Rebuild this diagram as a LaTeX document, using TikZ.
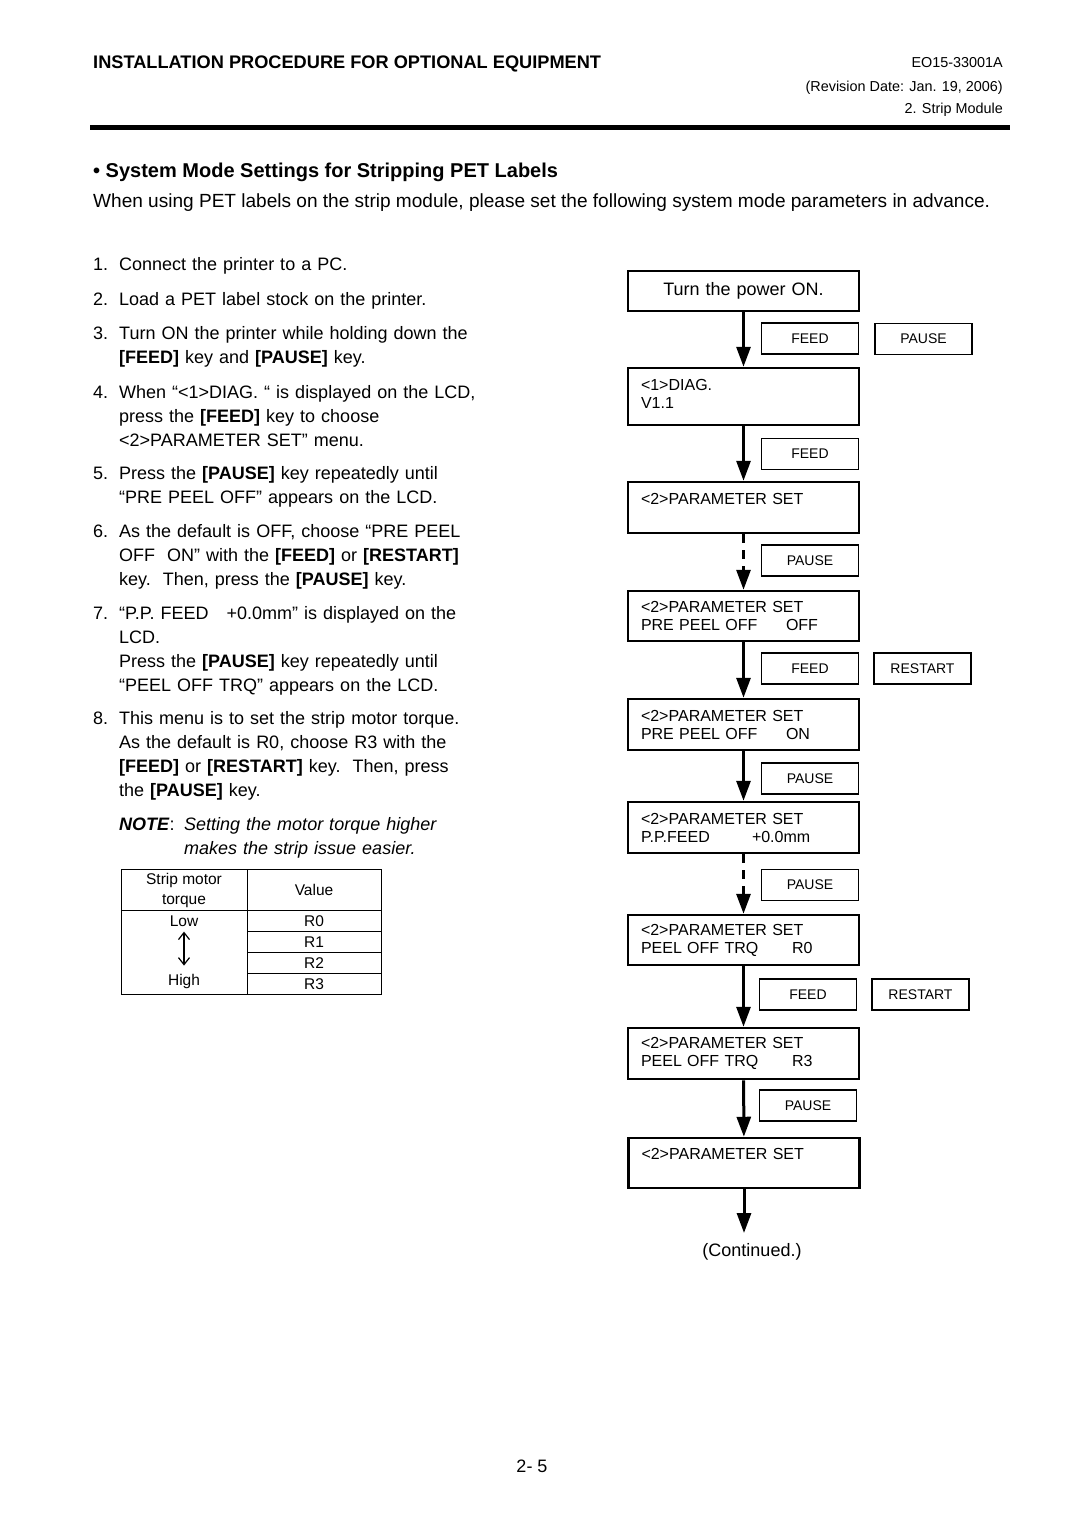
\documentclass[tikz,border=0pt]{standalone}
\usepackage{fontspec}
\setmainfont{Liberation Sans}
\usetikzlibrary{arrows.meta,
                positioning}
\newcommand\lcdrow[3]{\makebox[#1][l]{#2}#3}

\begin{document}
\begin{tikzpicture}[x=1pt, y=-1pt,
every node/.style = {inner sep=0pt},
every edge/.style = {draw, -{Triangle[length=20pt,width=14pt]}, line width=3pt, black},
       txt/.style = {anchor=base west, align=left, text width=420pt,
                     font=\fontsize{18}{24}\selectfont},
       lcd/.style = {draw, line width=2.5pt, text width=205pt, inner xsep=13pt,
                     align=left, font=\fontsize{16}{18}\selectfont},
       key/.style = {draw, line width=1.8pt, minimum width=97pt, minimum height=31pt,
                     font=\fontsize{14}{16}\selectfont},
       tab/.style = {align=center, font=\fontsize{15.5}{20}\selectfont}
                    ]
\useasboundingbox (0,0) rectangle (1080,1528);

\node[anchor=base west, font=\fontsize{18.2}{20}\selectfont\bfseries] (head) at (93,68.5)
    {INSTALLATION PROCEDURE FOR OPTIONAL EQUIPMENT};
\node[anchor=base east, font=\fontsize{14.4}{16}\selectfont] (docno) at (1003,67) {EO15-33001A};
\node[anchor=base east, font=\fontsize{14.4}{16}\selectfont] (rev) at (1003,91) {(Revision Date: Jan. 19, 2006)};
\node[anchor=base east, font=\fontsize{14.4}{16}\selectfont] (chap) at (1003,113) {2. Strip Module};
\draw[line width=5pt] (90,127) -- (1010,127);

\node[anchor=base west, font=\fontsize{20}{24}\selectfont\bfseries] (title) at (93,177)
    {• System Mode Settings for Stripping PET Labels};
\node[anchor=base west, font=\fontsize{19.05}{24}\selectfont] (intro) at (93,207)
    {When using PET labels on the strip module, please set the following system mode parameters in advance.};

\foreach \i/\y in {1/270.5, 2/305.5, 3/339.5, 4/398.5, 5/479.5, 6/537.5, 7/619.5, 8/724.5}
    \node[txt, text width=20pt] (n\i) at (93,\y) {\i.};
\node[txt] (s1) at (119,270.5) {Connect the printer to a PC.};
\node[txt] (s2) at (119,305.5) {Load a PET label stock on the printer.};
\node[txt] (s3) at (119,339.5) {Turn ON the printer while holding down the\\
    \textbf{[FEED]} key and \textbf{[PAUSE]} key.};
\node[txt] (s4) at (119,398.5) {When “<1>DIAG. “ is displayed on the LCD,\\
    press the \textbf{[FEED]} key to choose\\ <2>PARAMETER SET” menu.};
\node[txt] (s5) at (119,479.5) {Press the \textbf{[PAUSE]} key repeatedly until\\
    “PRE PEEL OFF” appears on the LCD.};
\node[txt] (s6) at (119,537.5) {As the default is OFF, choose “PRE PEEL\\
    OFF\ \ ON” with the \textbf{[FEED]} or \textbf{[RESTART]}\\
    key.\ \ Then, press the \textbf{[PAUSE]} key.};
\node[txt] (s7) at (119,619.5) {“P.P. FEED\ \ \ +0.0mm” is displayed on the\\ LCD.\\
    Press the \textbf{[PAUSE]} key repeatedly until\\ “PEEL OFF TRQ” appears on the LCD.};
\node[txt] (s8) at (119,724.5) {This menu is to set the strip motor torque.\\
    As the default is R0, choose R3 with the\\
    \textbf{[FEED]} or \textbf{[RESTART]} key.\ \ Then, press\\ the \textbf{[PAUSE]} key.};
\node[txt, text width=60pt] (note) at (119,830.5) {\textbf{\textit{NOTE}}:};
\node[txt, font=\fontsize{18}{24}\selectfont\itshape] (notetxt) at (184,830.5)
    {Setting the motor torque higher\\ makes the strip issue easier.};

\draw[line width=1pt] (121,869) rectangle (381,994);
\draw[line width=1pt] (247,869) -- (247,994) (121,910) -- (381,910);
\foreach \y in {931,952,973}
    \draw[line width=1pt] (247,\y) -- (381,\y);
\node[tab] (torque) at (184,890) {Strip motor\\torque};
\node[tab] (value) at (314,890) {Value};
\node[tab] (low) at (184,921) {Low};
\node[tab] (high) at (184,981) {High};
\node[tab] (r0) at (314,921) {R0};
\node[tab] (r1) at (314,942) {R1};
\node[tab] (r2) at (314,963) {R2};
\node[tab] (r3) at (314,984) {R3};
\draw[{Straight Barb[length=7pt,width=11pt]}-{Straight Barb[length=7pt,width=11pt]},
      line width=1.2pt, shorten <=5pt, shorten >=8pt] (low) -- (high);

\node[lcd, align=center, minimum height=40pt, font=\fontsize{18}{24}\selectfont] (power)
    at (743.5,291) {Turn the power ON.};
\node[lcd, minimum height=57pt] (diag) at (743.5,396.5) {<1>DIAG.\\V1.1\\[-12pt]\mbox{}};
\node[lcd, minimum height=51pt] (param) at (743.5,507.5) {<2>PARAMETER SET\\\mbox{}};
\node[lcd, minimum height=50pt] (preoff) at (743.5,616)
    {<2>PARAMETER SET\\\lcdrow{145pt}{PRE PEEL OFF}{OFF}};
\node[lcd, minimum height=51pt] (preon) at (743.5,724.5)
    {<2>PARAMETER SET\\\lcdrow{145pt}{PRE PEEL OFF}{ON}};
\node[lcd, minimum height=51pt] (ppfeed) at (743.5,827.5)
    {<2>PARAMETER SET\\\lcdrow{111pt}{P.P.FEED}{+0.0mm}};
\node[lcd, minimum height=50pt] (trqlow) at (743.5,940)
    {<2>PARAMETER SET\\\lcdrow{151pt}{PEEL OFF TRQ}{R0}};
\node[lcd, minimum height=51pt] (trqhigh) at (743.5,1053.5)
    {<2>PARAMETER SET\\\lcdrow{151pt}{PEEL OFF TRQ}{R3}};
\node[lcd, minimum height=50pt] (paramend) at (744,1163) {<2>PARAMETER SET\\\mbox{}};
\coordinate (more) at (744,1233);
\node[font=\fontsize{18}{24}\selectfont] (cont) at (752,1252) {(Continued.)};

\node[key] (feedA) at (810,338.5) {FEED};
\node[key] (pauseA) at (923.5,339) {PAUSE};
\node[key] (feedB) at (810,454) {FEED};
\node[key] (pauseB) at (810,560.5) {PAUSE};
\node[key] (feedC) at (810,668.5) {FEED};
\node[key] (restartC) at (922.5,668.5) {RESTART};
\node[key] (pauseD) at (810,778.5) {PAUSE};
\node[key] (pauseE) at (810,885) {PAUSE};
\node[key] (feedF) at (808,994.5) {FEED};
\node[key] (restartF) at (920.5,994.5) {RESTART};
\node[key] (pauseG) at (808,1105.5) {PAUSE};

\draw   (power) edge (diag)
        (diag) edge (param)
        (param) edge [dash pattern=on 9pt off 7pt] (preoff)
        (preoff) edge (preon)
        (preon) edge (ppfeed)
        (ppfeed) edge [dash pattern=on 9pt off 7pt] (trqlow)
        (trqlow) edge (trqhigh)
        (trqhigh) edge (paramend)
        (paramend) edge (more);

\node[font=\fontsize{18}{24}\selectfont] (page) at (532,1466) {2- 5};
\end{tikzpicture}
\end{document}
